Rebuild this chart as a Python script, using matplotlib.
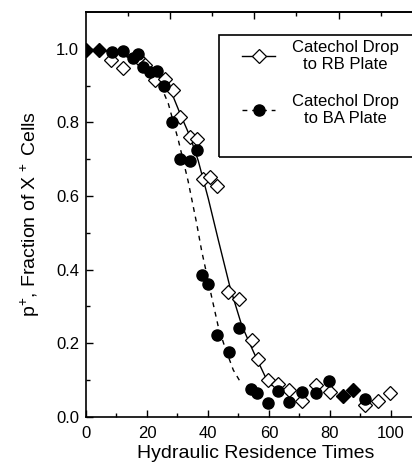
import matplotlib
matplotlib.use("Agg")
import matplotlib.pyplot as plt
from matplotlib.lines import Line2D
from matplotlib.patches import Rectangle

plt.rcParams['font.family'] = ['Liberation Sans', 'DejaVu Sans']
plt.rcParams['mathtext.fontset'] = 'custom'
plt.rcParams['mathtext.rm'] = 'Liberation Sans'
plt.rcParams['mathtext.it'] = 'Liberation Sans:italic'

# Catechol drop to RB plate (open diamonds)
rb_x = [8.2, 12.2, 17.0, 19.5, 22.6, 25.9, 28.6, 30.8, 34.1, 36.3, 38.5, 40.7, 43.0,
        46.7, 50.3, 54.4, 56.4, 59.7, 63.1, 66.7, 70.7, 75.5, 80.0, 91.5, 95.8, 99.8]
rb_y = [0.970, 0.947, 0.975, 0.955, 0.916, 0.919, 0.887, 0.814, 0.759, 0.756, 0.645, 0.651, 0.626,
        0.339, 0.321, 0.208, 0.158, 0.100, 0.090, 0.073, 0.042, 0.087, 0.068, 0.032, 0.043, 0.064]

# Catechol drop to BA plate (filled circles)
ba_x = [8.4, 12.2, 15.5, 16.9, 18.8, 21.0, 23.2, 25.5, 28.1, 30.8, 34.1, 36.5,
        37.9, 40.1, 42.8, 47.0, 50.1, 54.0, 56.0, 59.8, 63.1, 66.7, 70.7, 75.4, 79.8, 91.5]
ba_y = [0.991, 0.993, 0.976, 0.986, 0.950, 0.937, 0.941, 0.900, 0.800, 0.701, 0.695, 0.724,
        0.385, 0.360, 0.222, 0.175, 0.240, 0.074, 0.065, 0.038, 0.071, 0.041, 0.068, 0.065, 0.096, 0.048]

# points where both coincide (drawn as filled diamonds)
both_x = [0.0, 4.4, 84.2, 87.4]
both_y = [0.997, 0.997, 0.056, 0.073]

# fitted curves
rb_fit_x = [0, 10, 16, 20, 24, 28.1, 30.8, 34.1, 36.8, 40.1, 43.4, 47.2, 51.0, 53.0, 55.0, 57.0, 59.0, 61.0]
rb_fit_y = [1.0, 0.99, 0.97, 0.95, 0.92, 0.880, 0.825, 0.762, 0.696, 0.593, 0.480, 0.353, 0.250, 0.212,
            0.175, 0.140, 0.105, 0.085]
ba_fit_x = [0, 10, 16, 20, 24, 27.0, 30.3, 33.5, 36.3, 37.9, 41.2, 43.4, 45.5, 48.3, 50.8]
ba_fit_y = [1.0, 0.99, 0.97, 0.95, 0.91, 0.851, 0.751, 0.640, 0.525, 0.452, 0.326, 0.244, 0.190, 0.127, 0.092]

top_major = [27.6, 55.2, 82.8]
top_minor = [13.8, 41.4, 69.0, 96.6]

fig = plt.figure(figsize=(4.12, 4.62), dpi=100)
ax = fig.add_axes([0.2087, 0.098, 0.7913, 0.876])

ax.plot(rb_fit_x, rb_fit_y, color='k', lw=1.0)
ax.plot(ba_fit_x, ba_fit_y, color='k', lw=1.0, dashes=(3.5, 3.5))
ax.plot(rb_x, rb_y, 'D', ms=7, mfc='white', mec='k', mew=0.9, ls='none')
ax.plot(ba_x, ba_y, 'o', ms=8, mfc='k', mec='k', ls='none')
ax.plot(both_x, both_y, 'D', ms=7, mfc='k', mec='k', ls='none')

ax.set_xlim(0, 106.9)
ax.set_ylim(0, 1.1)
ax.set_xticks([0, 20, 40, 60, 80, 100])
ax.set_xticks([10, 30, 50, 70, 90], minor=True)
ax.set_yticks([0.0, 0.2, 0.4, 0.6, 0.8, 1.0])
ax.set_yticklabels(['0.0', '0.2', '0.4', '0.6', '0.8', '1.0'])
ax.set_yticks([0.1, 0.3, 0.5, 0.7, 0.9], minor=True)
ax.tick_params(which='both', direction='in', labelsize=12, top=False, right=False)
ax.tick_params(which='major', length=5, width=1)
ax.tick_params(which='minor', length=3, width=1)
ax.tick_params(axis='x', which='major', pad=7)
ax.tick_params(axis='y', which='major', pad=5)
ax.spines['right'].set_visible(False)
for s in ['left', 'bottom', 'top']:
    ax.spines[s].set_linewidth(1.2)

top = ax.secondary_xaxis('top')
top.set_xticks(top_major)
top.set_xticks(top_minor, minor=True)
top.tick_params(which='both', direction='in', labeltop=False)
top.tick_params(which='major', length=5, width=1)
top.tick_params(which='minor', length=3, width=1)
top.spines['top'].set_linewidth(1.2)

ax.set_xlabel('Hydraulic Residence Times', fontsize=14)
ax.xaxis.set_label_coords(0.52, -0.071)
ax.set_ylabel(r'p$^{+}$, Fraction of X$^{\,+}$ Cells', fontsize=14, labelpad=10)

# legend box (its right edge runs off the figure, as in the original)
ax.add_patch(Rectangle((0.408, 0.641), 0.7, 0.301, transform=ax.transAxes,
                       fill=False, ec='k', lw=1.2, clip_on=False))

handles = [Line2D([], [], color='k', lw=1.0, marker='D', ms=7, mfc='white', mec='k', mew=0.9),
           Line2D([], [], color='k', lw=1.0, dashes=(3.5, 3.5), marker='o', ms=8, mfc='k')]
labels = ['Catechol Drop\nto RB Plate', 'Catechol Drop\nto BA Plate']
leg = ax.legend(handles, labels, loc='upper left', bbox_to_anchor=(0.479, 0.931),
                fontsize=12, frameon=False, handlelength=2.0, handletextpad=1.0,
                labelspacing=1.3, borderpad=0, borderaxespad=0)
for t in leg.get_texts():
    t.set_multialignment('center')

plt.savefig('out.png', dpi=100)
